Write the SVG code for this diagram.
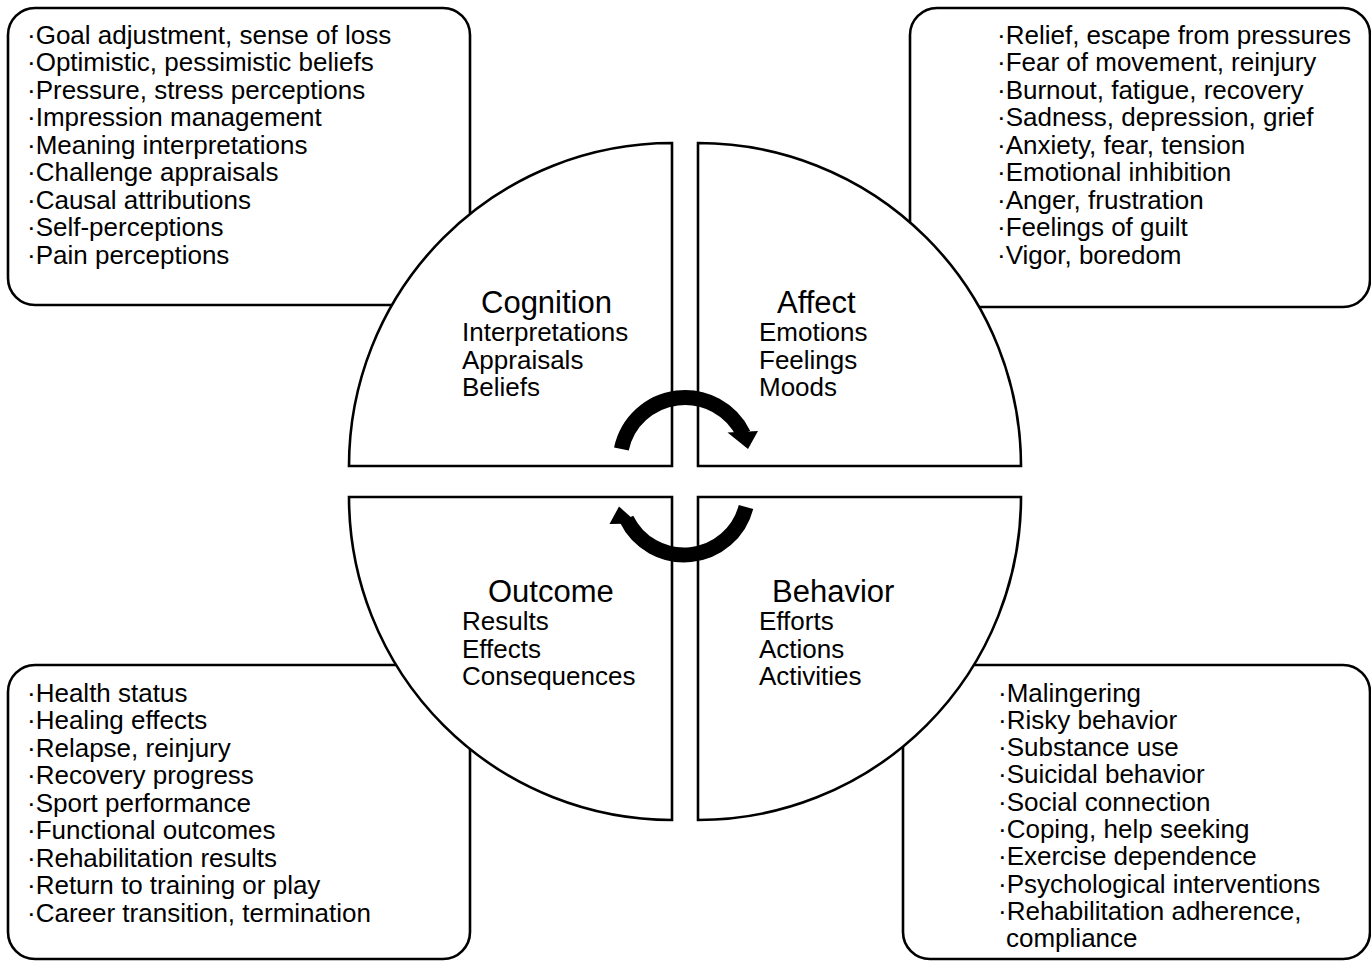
<svg xmlns="http://www.w3.org/2000/svg" width="1371" height="961" viewBox="0 0 1371 961">
<style>
.box{fill:#fff;stroke:#000;stroke-width:2.6}
.quad{fill:#fff;stroke:#000;stroke-width:2.6;stroke-linejoin:miter}
text{font-family:"Liberation Sans",Arial,sans-serif;fill:#000}
.item{font-size:26px}
.title{font-size:31px}
.arc{fill:none;stroke:#000;stroke-width:15}
.head{fill:#000}
</style>
<rect width="1371" height="961" fill="#fff"/>

<g id="box-cognition">
<rect class="box" x="8" y="8" width="462" height="297" rx="27"/>
<text class="item"><tspan x="27" y="43.5">·Goal adjustment, sense of loss</tspan><tspan x="27" y="71">·Optimistic, pessimistic beliefs</tspan><tspan x="27" y="98.5">·Pressure, stress perceptions</tspan><tspan x="27" y="126">·Impression management</tspan><tspan x="27" y="153.5">·Meaning interpretations</tspan><tspan x="27" y="181">·Challenge appraisals</tspan><tspan x="27" y="208.5">·Causal attributions</tspan><tspan x="27" y="236">·Self-perceptions</tspan><tspan x="27" y="263.5">·Pain perceptions</tspan></text>
</g>

<g id="box-affect">
<rect class="box" x="910" y="8" width="460" height="299" rx="27"/>
<text class="item"><tspan x="997" y="43.5">·Relief, escape from pressures</tspan><tspan x="997" y="71">·Fear of movement, reinjury</tspan><tspan x="997" y="98.5">·Burnout, fatigue, recovery</tspan><tspan x="997" y="126">·Sadness, depression, grief</tspan><tspan x="997" y="153.5">·Anxiety, fear, tension</tspan><tspan x="997" y="181">·Emotional inhibition</tspan><tspan x="997" y="208.5">·Anger, frustration</tspan><tspan x="997" y="236">·Feelings of guilt</tspan><tspan x="997" y="263.5">·Vigor, boredom</tspan></text>
</g>

<g id="box-outcome">
<rect class="box" x="8" y="665" width="462" height="294" rx="27"/>
<text class="item"><tspan x="27" y="701.5">·Health status</tspan><tspan x="27" y="729">·Healing effects</tspan><tspan x="27" y="756.5">·Relapse, reinjury</tspan><tspan x="27" y="784">·Recovery progress</tspan><tspan x="27" y="811.5">·Sport performance</tspan><tspan x="27" y="839">·Functional outcomes</tspan><tspan x="27" y="866.5">·Rehabilitation results</tspan><tspan x="27" y="894">·Return to training or play</tspan><tspan x="27" y="921.5">·Career transition, termination</tspan></text>
</g>

<g id="box-behavior">
<rect class="box" x="903" y="665" width="467" height="294" rx="27"/>
<text class="item"><tspan x="998" y="701.5">·Malingering</tspan><tspan x="998" y="728.8">·Risky behavior</tspan><tspan x="998" y="756.1">·Substance use</tspan><tspan x="998" y="783.4">·Suicidal behavior</tspan><tspan x="998" y="810.7">·Social connection</tspan><tspan x="998" y="838">·Coping, help seeking</tspan><tspan x="998" y="865.3">·Exercise dependence</tspan><tspan x="998" y="892.6">·Psychological interventions</tspan><tspan x="998" y="919.9">·Rehabilitation adherence,</tspan><tspan x="1006" y="947.2">compliance</tspan></text>
</g>

<g id="quad-cognition">
<path class="quad" d="M349 466 A323 323 0 0 1 672 143 L672 466 Z"/>
<text class="title" x="481" y="313">Cognition</text>
<text class="item"><tspan x="462" y="341">Interpretations</tspan><tspan x="462" y="368.5">Appraisals</tspan><tspan x="462" y="396">Beliefs</tspan></text>
</g>

<g id="quad-affect">
<path class="quad" d="M698 143 A323 323 0 0 1 1021 466 L698 466 Z"/>
<text class="title" x="777" y="313">Affect</text>
<text class="item"><tspan x="759" y="341">Emotions</tspan><tspan x="759" y="368.5">Feelings</tspan><tspan x="759" y="396">Moods</tspan></text>
</g>

<g id="quad-outcome">
<path class="quad" d="M349 497 L672 497 L672 820 A323 323 0 0 1 349 497 Z"/>
<text class="title" x="488" y="602">Outcome</text>
<text class="item"><tspan x="462" y="630">Results</tspan><tspan x="462" y="657.5">Effects</tspan><tspan x="462" y="685">Consequences</tspan></text>
</g>

<g id="quad-behavior">
<path class="quad" d="M698 497 L1021 497 A323 323 0 0 1 698 820 Z"/>
<text class="title" x="772" y="602">Behavior</text>
<text class="item"><tspan x="759" y="630">Efforts</tspan><tspan x="759" y="657.5">Actions</tspan><tspan x="759" y="685">Activities</tspan></text>
</g>

<g id="connectors">
<path class="arc" d="M621.4 449 A65 65 0 0 1 743.4 434"/>
<polygon class="head" points="727.5,432.5 758,431 748,449"/>
<path class="arc" d="M746 507 A64 64 0 0 1 626.5 519"/>
<polygon class="head" points="609.5,524 638,523.5 619,506.5"/>
</g>
</svg>
